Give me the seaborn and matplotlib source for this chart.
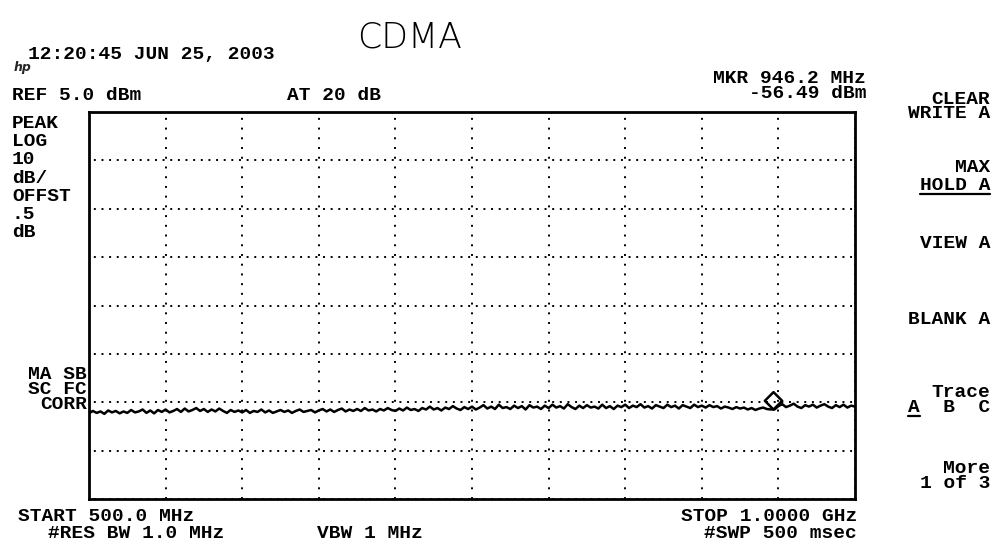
import numpy as np
import matplotlib
matplotlib.use("Agg")
import matplotlib.pyplot as plt
from matplotlib.path import Path
from matplotlib.lines import Line2D
from matplotlib.font_manager import FontProperties
import seaborn as sns

# ---- instrument settings -------------------------------------------------
START_MHZ = 500.0
STOP_MHZ = 1000.0
REF_DBM = 5.0
DB_PER_DIV = 10
N_VDIV = 8
N_HDIV = 10

# ---- max-hold trace A (dBm), one value per sweep point ---------------------
trace_dbm = [
    -57.3, -56.8, -57.2, -56.9, -57.4, -56.7, -57.1, -56.8, -57.3, -56.9,
    -57.2, -56.6, -57.1, -56.9, -56.5, -57.2, -56.7, -57.3, -56.6, -57.0,
    -56.5, -57.1, -56.8, -56.4, -57.0, -56.3, -56.9, -56.6, -56.2, -56.8,
    -56.4, -57.0, -56.5, -56.9, -56.3, -56.8, -57.2, -56.6, -57.0, -56.7,
    -57.1, -56.6, -57.2, -56.8, -57.0, -56.5, -57.1, -56.7, -57.2, -56.9,
    -56.6, -57.0, -56.7, -57.2, -56.8, -56.5, -57.0, -56.8, -56.6, -57.1,
    -56.7, -56.4, -56.9, -56.5, -57.0, -56.6, -56.3, -56.9, -56.5, -56.8,
    -56.4, -56.8, -56.2, -56.7, -56.5, -56.9, -56.4, -56.7, -56.2, -56.6,
    -56.8, -56.3, -56.7, -56.1, -56.6, -56.4, -56.8, -56.2, -56.5, -55.9,
    -56.5, -56.2, -56.7, -56.1, -56.4, -55.8, -56.3, -56.6, -56.0, -56.4,
    -55.9, -56.5, -56.1, -55.6, -56.3, -55.9, -56.4, -55.5, -56.2, -56.0,
    -56.4, -55.7, -56.2, -55.8, -56.5, -55.6, -56.1, -55.9, -56.4, -55.7,
    -56.2, -55.5, -56.1, -55.8, -56.3, -55.4, -56.0, -56.4, -55.7, -56.2,
    -55.6, -56.1, -55.9, -56.3, -55.5, -56.2, -55.8, -56.4, -55.7, -56.0,
    -55.5, -56.2, -55.7, -56.0, -55.4, -56.1, -55.8, -56.3, -55.6, -55.9,
    -56.2, -55.5, -56.0, -55.7, -56.3, -55.6, -55.9, -56.2, -55.5, -56.0,
    -55.7, -56.1, -55.6, -56.0, -55.8, -56.3, -55.9, -56.1, -56.4, -56.0,
    -56.3, -56.1, -56.5, -56.2, -56.6, -56.3, -56.1, -56.4, -56.49, -56.49,
    -55.8, -55.4, -56.0, -55.7, -55.3, -55.9, -56.2, -55.6, -55.9, -55.5,
    -56.1, -55.7, -55.4, -55.9, -56.2, -55.6, -56.0, -55.5, -56.1, -55.7,
    -55.9,
]

# ---- marker readout --------------------------------------------------------
marker_mhz = 946.2
marker_dbm = -56.49

# ---- screen annotations ----------------------------------------------------
left_labels = ["PEAK", "LOG", "10", "dB/", "OFFST", ".5", "dB"]
corr_labels = ["MA SB", "SC FC", "CORR"]
softkeys = [
    (["CLEAR", "WRITE A"], 98, 14),
    (["MAX", "HOLD A"], 166, 18),
    (["VIEW A"], 242, 14),
    (["BLANK A"], 318, 14),
    (["Trace", "A  B  C"], 391, 15),
    (["More", "1 of 3"], 467, 15),
]

W, H = 996, 551
sns.set_style("white")
plt.rcParams["lines.scale_dashes"] = False
MONO = ["Liberation Mono", "DejaVu Sans Mono"]
plt.rcParams["font.family"] = MONO + ["DejaVu Sans"]

fig = plt.figure(figsize=(W / 100, H / 100), dpi=100)
fig.patch.set_facecolor("white")
renderer = fig.canvas.get_renderer()

# graticule box in pixel terms
box_l, box_r, box_t, box_b = 89, 855, 112, 499
ax = fig.add_axes([box_l / W, 1 - box_b / H, (box_r - box_l) / W, (box_b - box_t) / H])

freq_mhz = np.linspace(START_MHZ, STOP_MHZ, len(trace_dbm))
bottom_dbm = REF_DBM - N_VDIV * DB_PER_DIV

sns.lineplot(x=freq_mhz, y=trace_dbm, color="black", linewidth=1.8, ax=ax,
             estimator=None, sort=False)

# marker diamond sitting on the trace
diamond = Path([(0, 0), (1, 1), (0, 2), (-1, 1), (0, 0)],
               [Path.MOVETO, Path.LINETO, Path.LINETO, Path.LINETO, Path.CLOSEPOLY])
ax.plot([marker_mhz], [marker_dbm], marker=diamond, markersize=25,
        markerfacecolor="none", markeredgecolor="black", markeredgewidth=1.8,
        linestyle="none", zorder=5)

ax.set_xlim(START_MHZ, STOP_MHZ)
ax.set_ylim(bottom_dbm, REF_DBM)
ax.set_xticks(np.linspace(START_MHZ, STOP_MHZ, N_HDIV + 1))
ax.set_yticks(np.arange(bottom_dbm, REF_DBM + 0.1, DB_PER_DIV))
ax.tick_params(length=0, labelbottom=False, labelleft=False)
ax.set_xlabel("")
ax.set_ylabel("")

ax.xaxis.grid(True, color="black", linewidth=1.4, linestyle=(0, (1.4, 5.6)))
ax.yaxis.grid(True, color="black", linewidth=1.4, linestyle=(2.0, (1.4, 4.1)))
for s in ax.spines.values():
    s.set_visible(True)
    s.set_color("black")
    s.set_linewidth(2.0)

FS = 14
FP = FontProperties(family=MONO, weight="bold", size=FS)
_, lp_h, lp_d = renderer.get_text_width_height_descent("lp", FP, ismath=False)
ASC = lp_h - lp_d
_, CAP, _ = renderer.get_text_width_height_descent("H", FP, ismath=False)
CHAR_W, _, _ = renderer.get_text_width_height_descent("A", FP, ismath=False)


def stack(x, yc, lines, step=15, ha="left"):
    """Column of screen text; yc is the cap centre of the first line (px)."""
    top = yc + CAP / 2 - ASC
    spacing = max((step - lp_d) / ASC, 0.1)
    return fig.text(x / W, 1 - top / H, "\n".join(lines), ha=ha, va="top",
                    linespacing=spacing, fontproperties=FP, color="black")


def underline(x0, x1, y):
    fig.add_artist(Line2D([x0 / W, x1 / W], [1 - y / H, 1 - y / H],
                          color="black", linewidth=1.6))


# header
stack(28, 53, ["12:20:45 JUN 25, 2003"])
fig.text(14 / W, 1 - 68 / H, "hp", fontsize=9, fontstyle="italic", fontweight="bold",
         family="DejaVu Sans", va="center", ha="left")
stack(12, 94, [f"REF {REF_DBM:.1f} dBm"])
stack(287, 94, ["AT 20 dB"])
stack(866, 77, [f"MKR {marker_mhz:.1f} MHz", f"{marker_dbm:.2f} dBm"], step=15, ha="right")
fig.text(410 / W, 1 - 38 / H, "CDMA", fontsize=25, fontweight="light",
         family="DejaVu Sans", ha="center", va="center", color="black")

# left annotations
stack(12, 122, left_labels, step=18.2)
stack(87, 373, corr_labels, step=15, ha="right")

# footer
stack(18, 515, [f"START {START_MHZ:.1f} MHz"])
stack(48, 532, ["#RES BW 1.0 MHz"])
stack(370, 532, ["VBW 1 MHz"], ha="center")
stack(857, 515, [f"STOP {STOP_MHZ / 1000:.4f} GHz", "#SWP 500 msec"], step=17, ha="right")

# soft keys
for lines, yc, step in softkeys:
    t = stack(990, yc, lines, step=step, ha="right")
    if lines[-1] == "HOLD A":
        bb = t.get_window_extent(renderer)
        underline(bb.x0, bb.x1, yc + step + CAP / 2 + 4)
    if lines[-1].startswith("A "):
        bb = t.get_window_extent(renderer)
        underline(bb.x0, bb.x0 + CHAR_W, yc + step + CAP / 2 + 4)

fig.savefig("out.png", dpi=100, facecolor="white")
